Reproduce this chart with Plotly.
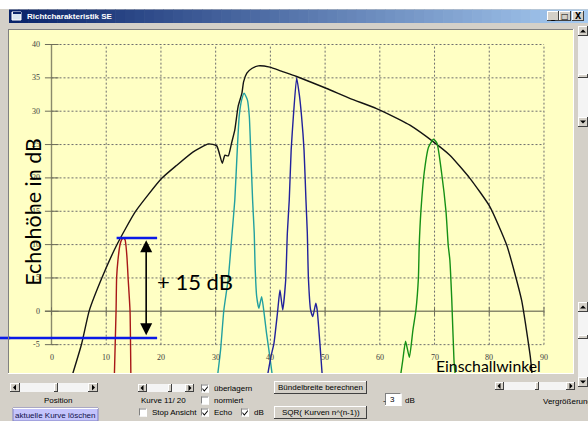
import plotly.graph_objects as go

W, H = 588, 421

# ------------------------------------------------------------------ data
x_tick_vals = [0, 10, 20, 30, 40, 50, 60, 70, 80, 90]
x_tick_text = ["0", "10", "20", "30", "40", "50", "60", "70", "80", "90"]
y_tick_vals = [-5, 0, 5, 10, 15, 20, 25, 30, 35, 40]
y_tick_text = ["-5", "0", "5", "10", "15", "20", "25", "30", "35", "40"]

envelope_angle = [3.9, 5.5, 6.9, 9.2, 11.9, 15.3, 20.1, 22.9, 25.9, 28.7,
                  30.2, 31.2, 31.7, 32.3, 32.9, 33.5, 34.1, 34.8, 35.1, 35.7,
                  36.6, 37.8, 39.9, 42.0, 44.8, 50.3, 54.6, 59.4, 63.7, 65.5,
                  69.8, 72.8, 76.5, 80.1, 83.2, 85.9, 87.5, 87.8]
envelope_db = [-9.3, -4.9, 0.1, 5.0, 9.9, 14.9, 19.9, 21.9, 23.9, 25.1,
               24.8, 22.2, 23.4, 23.3, 25.2, 27.2, 30.7, 32.7, 34.4, 35.7,
               36.4, 36.8, 36.6, 36.0, 35.2, 33.4, 31.9, 30.4, 28.7, 27.9,
               25.4, 23.4, 19.9, 15.7, 9.9, 1.7, -6.8, -9.3]

red_angle = [11.5, 11.8, 11.9, 12.15, 12.5, 12.8, 13.1, 13.45, 13.6, 13.8, 14.0, 14.35, 14.5]
red_db = [-9.3, 0.1, 5.0, 7.7, 9.9, 10.7, 11.0, 10.7, 9.9, 8.0, 5.0, 0.1, -9.3]

teal_angle = [30.4, 30.9, 31.5, 32.3, 33.0, 33.5, 33.95, 34.3, 34.75, 35.2, 35.8, 36.15,
              36.4, 36.75, 37.05, 37.2, 37.5, 37.9, 38.4, 38.7, 39.3, 39.9, 40.3]
teal_db = [-9.3, -5.8, 0.2, 4.9, 11.7, 16.7, 24.2, 29.2, 31.7, 32.7, 31.7, 29.2,
           24.2, 16.7, 11.7, 6.9, 2.2, 0.45, 2.2, 0.7, -3.3, -6.8, -9.3]

navy_angle = [39.55, 40.1, 40.65, 41.35, 41.75, 42.25, 42.8, 43.1, 43.45, 43.8, 44.2, 44.8,
              45.3, 45.7, 46.15, 46.5, 46.75, 46.95, 47.35, 47.75, 48.3, 48.55, 49.05, 49.45]
navy_db = [-9.3, -6.8, -4.8, 0.2, 3.2, 0.2, 4.7, 11.7, 16.7, 24.2, 29.2, 35.0,
           32.4, 29.2, 24.2, 16.7, 11.7, 5.0, 0.2, -0.8, 1.2, 0.2, -4.8, -9.3]

green_angle = [63.85, 64.2, 64.7, 65.4, 66.05, 66.6, 67.05, 67.2, 67.5, 68.1,
               68.9, 69.8, 70.45, 71.3, 72.1, 72.5, 72.8, 73.15, 73.55, 73.75]
green_db = [-9.3, -7.3, -4.5, -6.9, -2.8, 0.2, 5.0, 9.9, 14.9, 20.7,
            24.6, 25.8, 25.2, 20.7, 14.9, 9.9, 7.7, 1.7, -7.3, -9.3]

marker_angle = 17.3          # position of the double arrow
marker_top_db = 11.0         # upper blue line
marker_bottom_db = -4.0      # lower blue line
marker_line_from = 11.9
marker_line_to = 19.3
gain_label = "+ 15 dB"

# ------------------------------------------------------------------ geometry
X0_PX, DEG_PX = 51.5, 5.472
Y0_PX, DB_PX = 311.3, 6.67
PL, PR, PT, PB = 9, 573, 30, 373
x_range = [(PL - X0_PX) / DEG_PX, (PR - X0_PX) / DEG_PX]
y_range = [(Y0_PX - PB) / DB_PX, (Y0_PX - PT) / DB_PX]

UI = "Liberation Sans"
ANN = "Lato"
FACE = "#d4d0c8"

fig = go.Figure()
curves = [
    (envelope_angle, envelope_db, "#141414"),
    (red_angle, red_db, "#a81818"),
    (teal_angle, teal_db, "#22a0a0"),
    (navy_angle, navy_db, "#22229c"),
    (green_angle, green_db, "#159015"),
]
for xs, ys, col in curves:
    fig.add_trace(go.Scatter(x=xs, y=ys, mode="lines", hoverinfo="skip", showlegend=False,
                             line=dict(color=col, width=1.4, shape="spline", smoothing=0.5)))

shapes, anns = [], []

# grid (data coordinates)
grid = dict(color="#6e6e6e", width=1, dash="2px,2px")
for xv in x_tick_vals[1:]:
    shapes.append(dict(type="line", xref="x", yref="y", x0=xv, x1=xv,
                       y0=y_tick_vals[0], y1=y_tick_vals[-1], line=grid, layer="below"))
for yv in y_tick_vals:
    if yv == 0:
        continue
    shapes.append(dict(type="line", xref="x", yref="y", x0=x_tick_vals[0], x1=x_tick_vals[-1],
                       y0=yv, y1=yv, line=grid, layer="below"))
axis_line = dict(color="#8a8a6c", width=1.4)
shapes.append(dict(type="line", xref="x", yref="y", x0=-1.2, x1=x_tick_vals[-1], y0=0, y1=0,
                   line=axis_line, layer="below"))
shapes.append(dict(type="line", xref="x", yref="y", x0=0, x1=0, y0=y_tick_vals[0], y1=y_tick_vals[-1],
                   line=axis_line, layer="below"))
for yv in y_tick_vals:
    shapes.append(dict(type="line", xref="x", yref="y", x0=-1.2, x1=1.3, y0=yv, y1=yv,
                       line=dict(color="#6e6e5a", width=1), layer="below"))
for xv in x_tick_vals:
    shapes.append(dict(type="line", xref="x", yref="y", x0=xv, x1=xv, y0=-0.6, y1=0.6,
                       line=dict(color="#6e6e5a", width=1), layer="below"))

tick_font = dict(family="Liberation Sans Narrow", size=8, color="#404040")
for yv, t in zip(y_tick_vals, y_tick_text):
    anns.append(dict(x=-1.7, y=yv, xref="x", yref="y", text=t, showarrow=False, xanchor="right",
                     yanchor="middle", font=tick_font))
for xv, t in zip(x_tick_vals, x_tick_text):
    anns.append(dict(x=xv, y=-6.9, xref="x", yref="y", text=t, showarrow=False, xanchor="center",
                     yanchor="middle", font=tick_font))

# blue marker lines
blue = dict(color="#0a1ae8", width=2.6)
shapes.append(dict(type="line", xref="x", yref="y", x0=marker_line_from, x1=marker_line_to,
                   y0=marker_top_db, y1=marker_top_db, line=blue, layer="above"))
shapes.append(dict(type="line", xref="x", yref="y", x0=x_range[0] - 1, x1=marker_line_to,
                   y0=marker_bottom_db, y1=marker_bottom_db, line=blue, layer="above"))
shapes.append(dict(type="line", xref="paper", yref="y", x0=0, x1=PL / W + 0.002,
                   y0=marker_bottom_db, y1=marker_bottom_db, line=blue, layer="above"))

# double arrow
anns.append(dict(x=marker_angle, y=marker_top_db - 0.35, ax=marker_angle, ay=marker_bottom_db + 0.2,
                 xref="x", yref="y", axref="x", ayref="y", text="", showarrow=True,
                 arrowhead=2, startarrowhead=2, arrowside="end+start", arrowsize=1.5,
                 startarrowsize=1.5, arrowwidth=1.6, arrowcolor="#000000", standoff=0, startstandoff=0))
anns.append(dict(x=18.9, y=4.4, xref="x", yref="y", text=gain_label, showarrow=False, xanchor="left",
                 yanchor="middle", font=dict(family=ANN, size=22, color="#000000")))
anns.append(dict(x=-3.4, y=14.9, xref="x", yref="y", text="Echohöhe in dB", showarrow=False,
                 textangle=-90, xanchor="center", yanchor="middle",
                 font=dict(family=ANN, size=21.5, color="#000000")))
anns.append(dict(x=79.8, y=-8.2, xref="x", yref="y", text="Einschallwinkel", showarrow=False,
                 xanchor="center", yanchor="middle", font=dict(family=ANN, size=15.8, color="#000000")))


# ------------------------------------------------------------------ window chrome (pixel helpers)
def px(x):
    return x / W


def py(y):
    return 1 - y / H


def prect(x0, y0, x1, y1, fill, lc=None, lw=0):
    shapes.append(dict(type="rect", xref="paper", yref="paper", x0=px(x0), x1=px(x1),
                       y0=py(y1), y1=py(y0), fillcolor=fill,
                       line=dict(width=lw, color=lc or fill), layer="above"))


def pline(x0, y0, x1, y1, col, w=1):
    shapes.append(dict(type="line", xref="paper", yref="paper", x0=px(x0), x1=px(x1),
                       y0=py(y0), y1=py(y1), line=dict(color=col, width=w), layer="above"))


def ppath(pts, fill, col=None, w=0):
    d = "M " + " L ".join(f"{px(a):.5f},{py(b):.5f}" for a, b in pts) + " Z"
    shapes.append(dict(type="path", xref="paper", yref="paper", path=d, fillcolor=fill,
                       line=dict(color=col or fill, width=w), layer="above"))


def ptext(x, y, s, size=8, color="#000000", xanchor="left", bold=False, family=UI):
    anns.append(dict(x=px(x), y=py(y), xref="paper", yref="paper", text=f"<b>{s}</b>" if bold else s,
                     showarrow=False, xanchor=xanchor, yanchor="middle",
                     font=dict(family=family, size=size, color=color)))


def raised(x0, y0, x1, y1, fill=FACE):
    prect(x0, y0, x1, y1, fill)
    pline(x0, y0 + 0.5, x1, y0 + 0.5, "#ffffff")
    pline(x0 + 0.5, y0, x0 + 0.5, y1, "#ffffff")
    pline(x0, y1 - 0.5, x1, y1 - 0.5, "#404040")
    pline(x1 - 0.5, y0, x1 - 0.5, y1, "#404040")


def sunken(x0, y0, x1, y1, fill="#ffffff"):
    prect(x0, y0, x1, y1, fill)
    pline(x0, y0 + 0.5, x1, y0 + 0.5, "#808080")
    pline(x0 + 0.5, y0, x0 + 0.5, y1, "#808080")
    pline(x0, y1 - 0.5, x1, y1 - 0.5, "#ffffff")
    pline(x1 - 0.5, y0, x1 - 0.5, y1, "#ffffff")


def hscroll(x0, x1, y0, y1, thumb):
    h = y1 - y0
    prect(x0, y0, x1, y1, "#f4f4f4")
    raised(x0, y0, x0 + h + 1, y1)
    raised(x1 - h - 1, y0, x1, y1)
    cy = (y0 + y1) / 2
    ppath([(x0 + h / 2 - 1.5, cy), (x0 + h / 2 + 1.5, cy - 3), (x0 + h / 2 + 1.5, cy + 3)], "#000000")
    ppath([(x1 - h / 2 + 1.5, cy), (x1 - h / 2 - 1.5, cy - 3), (x1 - h / 2 - 1.5, cy + 3)], "#000000")
    raised(thumb - 2, y0, thumb + 2, y1)


def vscroll(x0, x1, y0, y1, thumb):
    w = x1 - x0
    prect(x0, y0, x1, y1, "#f4f4f4")
    raised(x0, y0, x1, y0 + w)
    raised(x0, y1 - w, x1, y1)
    cx = (x0 + x1) / 2
    ppath([(cx, y0 + w / 2 - 1.5), (cx - 3, y0 + w / 2 + 1.5), (cx + 3, y0 + w / 2 + 1.5)], "#000000")
    ppath([(cx, y1 - w / 2 + 1.5), (cx - 3, y1 - w / 2 - 1.5), (cx + 3, y1 - w / 2 - 1.5)], "#000000")
    raised(x0, thumb - 2, x1, thumb + 2)


def checkbox(x, y, checked, label):
    sunken(x, y - 4, x + 8, y + 4)
    if checked:
        ppath([(x + 1.5, y - 0.5), (x + 3.3, y + 1.8), (x + 6.8, y - 2.5), (x + 6.8, y - 1.0),
               (x + 3.3, y + 3.2), (x + 1.5, y + 1.0)], "#000000")
    ptext(x + 11, y, label)


# outer white strip and title bar
prect(0, 0, W, 9, "#ffffff")
N = 60
c0, c1 = (10, 36, 106), (166, 202, 240)
for i in range(N):
    t = i / (N - 1)
    col = "rgb(%d,%d,%d)" % tuple(round(a + (b - a) * t) for a, b in zip(c0, c1))
    xa = 9 + (W - 9) * i / N
    xb = 9 + (W - 9) * (i + 1) / N + 0.6
    prect(xa, 9.5, xb, 23, col)
prect(12, 12, 21, 20, "#d8e4f0", "#ffffff", 1)
prect(13, 12, 21, 14, "#0a246a")
ptext(25, 16.5, "Richtcharakteristik SE", size=8, color="#ffffff", bold=True, family="Liberation Sans")
for bx, glyph in [(547, "_"), (559, "□"), (572, "X")]:
    raised(bx, 11, bx + 12, 21)
    ptext(bx + 6, 16, glyph, size=8, xanchor="center", bold=True, family="DejaVu Sans")

# sunken frame around plot
pline(PL - 1, PT - 0.5, PR + 1, PT - 0.5, "#808080")
pline(PL - 0.5, PT - 1, PL - 0.5, PB + 1, "#808080")
pline(PL - 1, PB + 0.5, PR + 1, PB + 0.5, "#ffffff")
pline(PR + 0.5, PT - 1, PR + 0.5, PB + 1, "#ffffff")

# right scrollbars
vscroll(578, 588, 26, 127, 76)
vscroll(578, 588, 302, 387, 337)

# bottom controls
hscroll(10, 98, 383, 392, 56)
ptext(58, 400, "Position", xanchor="center")
prect(13, 408, 98, 421, "#c4c4fc", "#8080c0", 1)
pline(13, 408.5, 98, 408.5, "#ffffff")
ptext(55.5, 415, "aktuelle Kurve löschen", color="#10104a", xanchor="center")

hscroll(138, 194, 384, 392, 170)
ptext(139, 400.5, "Kurve 11/ 20")
checkbox(139, 412.5, False, "Stop Ansicht")
checkbox(201, 388.5, True, "überlagern")
checkbox(201, 400.5, False, "normiert")
checkbox(201, 412.5, True, "Echo")
checkbox(241, 412.5, True, "dB")

raised(274, 381, 367, 394)
ptext(320.5, 387.5, "Bündelbreite berechnen", xanchor="center")
raised(274, 406, 367, 419)
ptext(320.5, 412.5, "SQR( Kurven n^(n-1))", xanchor="center")

ptext(381, 400, "-")
sunken(385, 393, 401.5, 406)
ptext(387.5, 399.5, "3")
ptext(403, 400, "dB")

hscroll(495, 575, 382, 390, 537)
ptext(541, 401, "Vergrößerung")

fig.update_layout(
    width=W, height=H, autosize=False,
    margin=dict(l=0, r=0, t=0, b=0, pad=0),
    paper_bgcolor=FACE, plot_bgcolor="#ffffc4",
    xaxis=dict(domain=[PL / W, PR / W], range=x_range, visible=False, fixedrange=True),
    yaxis=dict(domain=[1 - PB / H, 1 - PT / H], range=y_range, visible=False, fixedrange=True),
    shapes=shapes, annotations=anns, showlegend=False,
)

fig.write_html("out.html", config={"displayModeBar": False},
               post_script="document.body.style.margin='0';document.body.style.overflow='hidden';")
